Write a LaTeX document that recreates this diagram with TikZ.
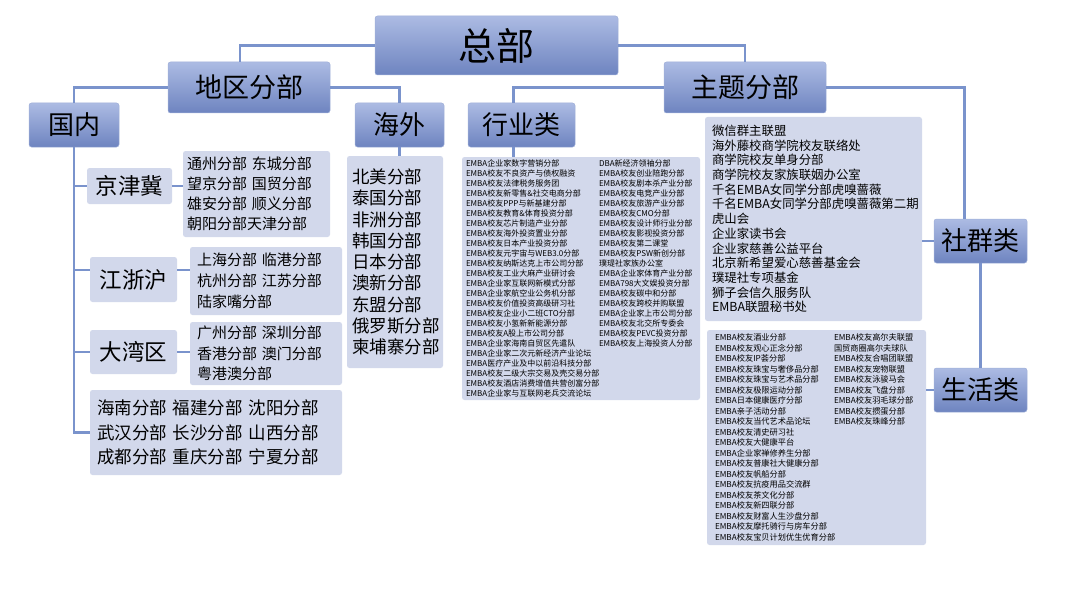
\documentclass[tikz,border=0pt]{standalone}
\usepackage{fontspec}
\newfontfamily\cjk{Noto Sans CJK SC}
\definecolor{conncol}{RGB}{122,147,204}
\definecolor{htop}{RGB}{172,187,227}
\definecolor{hbot}{RGB}{110,132,192}
\definecolor{hline}{RGB}{160,176,216}
\definecolor{lbox}{RGB}{210,216,235}
\begin{document}
\begin{tikzpicture}[x=1pt,y=-1pt,
 head/.style={draw=hline, line width=0.5pt, rounded corners=2.5pt, top color=htop, bottom color=hbot, inner sep=0pt},
 lite/.style={fill=lbox, rounded corners=2.5pt, inner sep=0pt},
 listbox/.style={fill=lbox, rounded corners=2.5pt, inner ysep=0pt, align=left},
 conn/.style={draw=conncol, line width=2.3pt}]
\useasboundingbox (0,0) rectangle (1080,610);

% headings
\node[head, minimum width=243pt, minimum height=59pt, font=\cjk\fontsize{38}{42}\selectfont] (hq) at (496.5,45.5) {总部};
\node[head, minimum width=162pt, minimum height=51pt, font=\cjk\fontsize{27}{30}\selectfont] (region) at (249,87.5) {地区分部};
\node[head, minimum width=162pt, minimum height=51pt, font=\cjk\fontsize{27}{30}\selectfont] (theme) at (745,87.5) {主题分部};
\node[head, minimum width=90pt, minimum height=44pt, font=\cjk\fontsize{26}{29}\selectfont] (dom) at (74,125) {国内};
\node[head, minimum width=89pt, minimum height=44pt, font=\cjk\fontsize{26}{29}\selectfont] (ovs) at (399.5,125) {海外};
\node[head, minimum width=107pt, minimum height=44pt, font=\cjk\fontsize{26}{29}\selectfont] (ind) at (521.5,125) {行业类};
\node[head, minimum width=93pt, minimum height=44pt, font=\cjk\fontsize{26}{29}\selectfont] (soc) at (980.5,241) {社群类};
\node[head, minimum width=93pt, minimum height=44pt, font=\cjk\fontsize{26}{29}\selectfont] (life) at (980.5,390) {生活类};

% domestic regions
\node[lite, minimum width=85pt, minimum height=36pt, font=\cjk\fontsize{22.5}{25}\selectfont] (jjj) at (129.5,186) {京津冀};
\node[lite, minimum width=87pt, minimum height=45pt, font=\cjk\fontsize{22.5}{25}\selectfont] (zjh) at (133.5,279.5) {江浙沪};
\node[lite, minimum width=87pt, minimum height=44pt, font=\cjk\fontsize{22.5}{25}\selectfont] (dwq) at (133.5,352) {大湾区};

% lists
\node[listbox, inner xsep=4pt, text width=139pt, minimum height=86pt, font=\cjk\fontsize{15}{20}\selectfont] (jjjlist) at (256.5,194) {通州分部 东城分部\\望京分部 国贸分部\\雄安分部 顺义分部\\朝阳分部天津分部};
\node[listbox, inner xsep=7pt, text width=138pt, minimum height=68pt, font=\cjk\fontsize{15}{21}\selectfont] (zjhlist) at (266,281) {上海分部 临港分部\\杭州分部 江苏分部\\陆家嘴分部};
\node[listbox, inner xsep=7pt, text width=138pt, minimum height=63pt, font=\cjk\fontsize{15}{20.5}\selectfont] (dwqlist) at (266,353.5) {广州分部 深圳分部\\香港分部 澳门分部\\粤港澳分部};
\node[listbox, inner xsep=7pt, text width=238pt, minimum height=85pt, font=\cjk\fontsize{17.5}{24.5}\selectfont] (bot) at (216,432.5) {海南分部 福建分部 沈阳分部\\武汉分部 长沙分部 山西分部\\成都分部 重庆分部 宁夏分部};
\node[listbox, inner xsep=5pt, text width=86pt, minimum height=212pt, font=\cjk\fontsize{17.5}{21.25}\selectfont] (ovslist) at (395,262) {北美分部\\泰国分部\\非洲分部\\韩国分部\\日本分部\\澳新分部\\东盟分部\\俄罗斯分部\\柬埔寨分部};

\node[listbox, inner xsep=4pt, text width=230pt, minimum height=243pt, font=\cjk\fontsize{8}{10}\selectfont] (indlist) at (581,278.5) {\parbox[t]{133pt}{EMBA企业家数字营销分部\\EMBA校友不良资产与债权融资\\EMBA校友法律税务服务团\\EMBA校友新零售\&社交电商分部\\EMBA校友PPP与新基建分部\\EMBA校友教育\&体育投资分部\\EMBA校友芯片制造产业分部\\EMBA校友海外投资置业分部\\EMBA校友日本产业投资分部\\EMBA校友元宇宙与WEB3.0分部\\EMBA校友纳斯达克上市公司分部\\EMBA校友工业大麻产业研讨会\\EMBA企业家互联网新模式分部\\EMBA企业家航空业公务机分部\\EMBA校友价值投资高级研习社\\EMBA校友企业小二班CTO分部\\EMBA校友小氢新新能源分部\\EMBA校友A股上市公司分部\\EMBA企业家海南自贸区先遣队\\EMBA企业家二次元新经济产业论坛\\EMBA医疗产业及中以前沿科技分部\\EMBA校友二级大宗交易及壳交易分部\\EMBA校友酒店消费增值共营创富分部\\EMBA企业家与互联网老兵交流论坛}\parbox[t]{97pt}{DBA新经济领袖分部\\EMBA校友创业陪跑分部\\EMBA校友剧本杀产业分部\\EMBA校友电竞产业分部\\EMBA校友旅游产业分部\\EMBA校友CMO分部\\EMBA校友设计师行业分部\\EMBA校友影视投资分部\\EMBA校友第二课堂\\EMBA校友PSW新创分部\\璞瑅社家族办公室\\EMBA企业家体育产业分部\\EMBA798大文娱投资分部\\EMBA校友碳中和分部\\EMBA校友跨校并购联盟\\EMBA企业家上市公司分部\\EMBA校友北交所专委会\\EMBA校友PEVC投资分部\\EMBA校友上海投资人分部}};

\node[listbox, inner xsep=7pt, text width=203pt, minimum height=204pt, font=\cjk\fontsize{12.4}{14.7}\selectfont] (soclist) at (813.5,219) {微信群主联盟\\海外藤校商学院校友联络处\\商学院校友单身分部\\商学院校友家族联姻办公室\\千名EMBA女同学分部虎嗅蔷薇\\千名EMBA女同学分部虎嗅蔷薇第二期\\虎山会\\企业家读书会\\企业家慈善公益平台\\北京新希望爱心慈善基金会\\璞瑅社专项基金\\狮子会信久服务队\\EMBA联盟秘书处};

\node[listbox, inner xsep=8pt, text width=203pt, minimum height=215pt, font=\cjk\fontsize{8.2}{10.5}\selectfont] (lifelist) at (816.5,437.5) {\parbox[t]{119pt}{EMBA校友酒业分部\\EMBA校友观心正念分部\\EMBA校友IP荟分部\\EMBA校友珠宝与奢侈品分部\\EMBA校友珠宝与艺术品分部\\EMBA校友极限运动分部\\EMBA日本健康医疗分部\\EMBA亲子活动分部\\EMBA校友当代艺术品论坛\\EMBA校友清史研习社\\EMBA校友大健康平台\\EMBA企业家禅修养生分部\\EMBA校友普康社大健康分部\\EMBA校友帆船分部\\EMBA校友抗疫用品交流群\\EMBA校友茶文化分部\\EMBA校友新四联分部\\EMBA校友财富人生沙盘分部\\EMBA校友摩托骑行与房车分部\\EMBA校友宝贝计划优生优育分部}\parbox[t]{84pt}{EMBA校友高尔夫联盟\\国贸商圈高尔夫球队\\EMBA校友合唱团联盟\\EMBA校友宠物联盟\\EMBA校友泳骏马会\\EMBA校友飞盘分部\\EMBA校友羽毛球分部\\EMBA校友掼蛋分部\\EMBA校友珠峰分部}};

% connectors
\draw[conn] (hq.west) -| ([xshift=-9pt]region.north);
\draw[conn] (hq.east) -| (theme.north);
\draw[conn] (region.west) -| (dom.north);
\draw[conn] (region.east) -| (ovs.north);
\draw[conn] (theme.west) -| ([xshift=-8pt]ind.north);
\draw[conn] (theme.east) -| ([xshift=-16pt]soc.north);
\draw[conn] (soc.south) -- (life.north);
\draw[conn] (soc.west) -- (soc.west -| soclist.east);
\draw[conn] (life.west) -- (life.west -| lifelist.east);
\draw[conn] (ovs.south) -- (ovs.south |- ovslist.north);
\draw[conn] ([xshift=-8pt]ind.south) -- ([xshift=-8pt]ind.south |- indlist.north);
\draw[conn] (dom.south) -- (dom.south |- bot.west) -- (bot.west);
\draw[conn] (dom.south |- jjj.west) -- (jjj.west);
\coordinate (zj) at ([yshift=9.5pt]zjh.west);
\draw[conn] (dom.south |- zj) -- (zj);
\draw[conn] (zj -| zjh.east) -- (zj -| zjhlist.west);
\draw[conn] (dom.south |- dwq.west) -- (dwq.west);
\draw[conn] (jjj.east) -- (jjj.east -| jjjlist.west);
\draw[conn] (dwq.east) -- (dwq.east -| dwqlist.west);
\end{tikzpicture}
\end{document}
